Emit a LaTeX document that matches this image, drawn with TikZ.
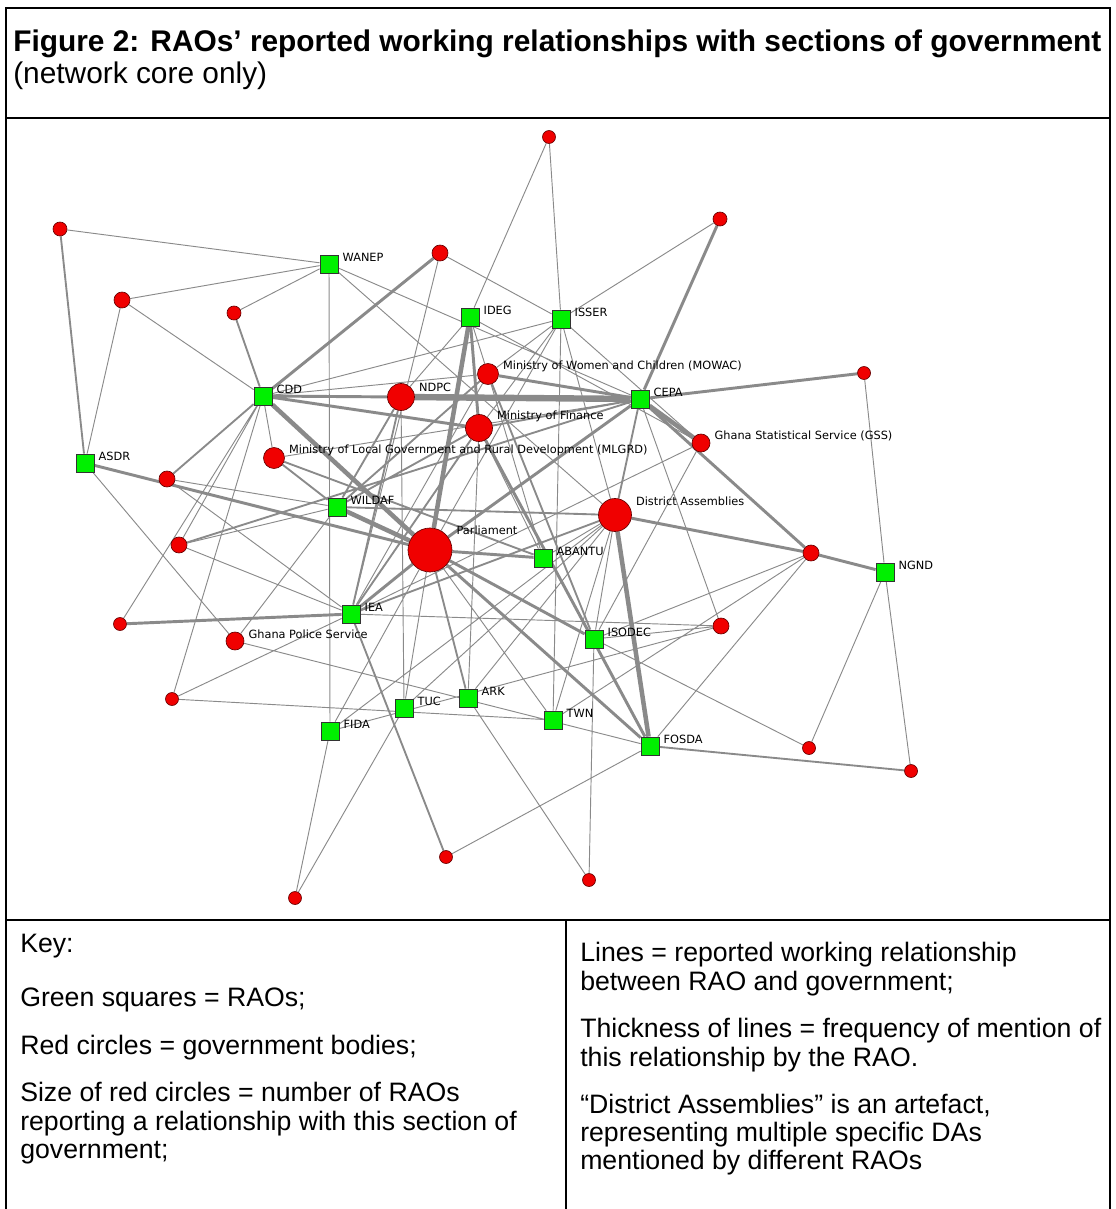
\documentclass[tikz,border=0pt]{standalone}
\usepackage{fontspec}
\setmainfont{Liberation Sans}
\newfontfamily\labfont{DejaVu Sans}
\usetikzlibrary{backgrounds}
\definecolor{raogreen}{RGB}{0,240,0}
\definecolor{govred}{RGB}{240,0,0}
\definecolor{linkgray}{RGB}{138,138,138}
\tikzset{
  frame/.style={line width=1.5pt},
  rao/.style={draw=black!80,fill=raogreen,minimum size=13.5pt,inner sep=0pt,line width=0.6pt},
  gov/.style={circle,draw=red!40!black,fill=govred,minimum size=#1,inner sep=0pt,line width=0.5pt},
  lab/.style={font=\labfont\fontsize{8.5}{10}\selectfont,inner sep=1pt},
  keytext/.style={font=\fontsize{20}{24}\selectfont,inner sep=0pt,anchor=base west},
  thinlink/.style={draw=linkgray,line width=0.7pt},
  medlink/.style={draw=linkgray,line width=1.4pt},
  thicklink/.style={draw=linkgray,line width=2.2pt},
  heavylink/.style={draw=linkgray,line width=3.4pt},
  heaviestlink/.style={draw=linkgray,line width=4.8pt}
}
\begin{document}
\begin{tikzpicture}[x=0.75pt,y=-0.75pt,label distance=2pt]
\useasboundingbox (0,0) rectangle (1116,1209);

% table frame
\draw[frame] (6,1209) -- (6,8) -- (1110,8) -- (1110,1209);
\draw[frame] (6,118) -- (1110,118);
\draw[frame] (6,920) -- (1110,920);
\draw[frame] (566,920) -- (566,1209);

% caption
\node[keytext,font=\bfseries\fontsize{22.4}{26}\selectfont] (title) at (13,52)
  {Figure 2: RAOs’ reported working relationships with sections of government};
\node[keytext,font=\fontsize{22.4}{26}\selectfont] (subtitle) at (13,84) {(network core only)};

% RAOs
\node[rao,label={[lab,yshift=5.25]right:WANEP}] (wanep) at (329,264) {};
\node[rao,label={[lab,yshift=5.25]right:IDEG}] (ideg) at (470,317) {};
\node[rao,label={[lab,yshift=5.25]right:ISSER}] (isser) at (561,319) {};
\node[rao,label={[lab,yshift=5.25]right:CDD}] (cdd) at (263,396) {};
\node[rao,label={[lab,yshift=5.25]right:CEPA}] (cepa) at (640,399) {};
\node[rao,label={[lab,yshift=5.25]right:ASDR}] (asdr) at (85,463) {};
\node[rao,label={[lab,yshift=5.25]right:WILDAF}] (wildaf) at (337,507) {};
\node[rao,label={[lab,yshift=5.25]right:ABANTU}] (abantu) at (543,558) {};
\node[rao,label={[lab,yshift=5.25]right:NGND}] (ngnd) at (885,572) {};
\node[rao,label={[lab,yshift=5.25]right:IEA}] (iea) at (351,614) {};
\node[rao,label={[lab,yshift=5.25]right:ISODEC}] (isodec) at (594,639) {};
\node[rao,label={[lab,yshift=5.25]right:ARK}] (ark) at (468,698) {};
\node[rao,label={[lab,yshift=5.25]right:TUC}] (tuc) at (404,708) {};
\node[rao,label={[lab,yshift=5.25]right:TWN}] (twn) at (553,720) {};
\node[rao,label={[lab,yshift=5.25]right:FIDA}] (fida) at (330,731) {};
\node[rao,label={[lab,yshift=5.25]right:FOSDA}] (fosda) at (650,746) {};

% government bodies
\node[gov=9.75] (g1) at (549,137) {};
\node[gov=10.5] (g2) at (720,219) {};
\node[gov=10.5] (g3) at (60,229) {};
\node[gov=12] (g4) at (440,253) {};
\node[gov=12] (g5) at (122,300) {};
\node[gov=10.5] (g6) at (234,313) {};
\node[gov=15.75,label={[lab,yshift=6]right:Ministry of Women and Children (MOWAC)}] (mowac) at (488,374) {};
\node[gov=20.25,label={[lab,yshift=7.5]right:NDPC}] (ndpc) at (401,397) {};
\node[gov=9.75] (g7) at (864,373) {};
\node[gov=20.25,label={[lab,yshift=9]right:Ministry of Finance}] (mof) at (479,428) {};
\node[gov=13.5,label={[lab,yshift=5.25]right:Ghana Statistical Service (GSS)}] (gss) at (701,443) {};
\node[gov=15.75,label={[lab,yshift=6]right:Ministry of Local Government and Rural Development (MLGRD)}] (mlgrd) at (274,458) {};
\node[gov=12] (g8) at (167,479) {};
\node[gov=24.75,label={[lab,yshift=10.5]right:District Assemblies}] (da) at (615,515) {};
\node[gov=33,label={[lab,yshift=15]right:Parliament}] (parl) at (430,550) {};
\node[gov=12] (g9) at (811,553) {};
\node[gov=12] (g10) at (179,545) {};
\node[gov=9.75] (g11) at (120,624) {};
\node[gov=13.5,label={[lab,yshift=5.25]right:Ghana Police Service}] (gps) at (235,641) {};
\node[gov=12] (g12) at (721,626) {};
\node[gov=9.75] (g13) at (172,699) {};
\node[gov=9.75] (g14) at (809,748) {};
\node[gov=9.75] (g15) at (911,771) {};
\node[gov=9.75] (g16) at (446,857) {};
\node[gov=9.75] (g17) at (589,880) {};
\node[gov=9.75] (g18) at (295,898) {};

% working relationships
\begin{scope}[on background layer]
\path[thinlink] (g1) -- (ideg) (g1) -- (isser) (g2) -- (isser)
  (g3) -- (wanep) (g5) -- (wanep) (g5) -- (asdr) (g5) -- (cdd) (g6) -- (wanep)
  (g4) -- (isser) (g4) -- (iea) (wanep) -- (fida) (wanep) -- (cepa) (wanep) -- (da)
  (cdd) -- (isser) (cdd) -- (g10) (cdd) -- (g11) (cdd) -- (g13) (cdd) -- (mlgrd) (cdd) -- (mowac)
  (parl) -- (tuc) (parl) -- (fida) (parl) -- (isser) (parl) -- (twn)
  (mof) -- (abantu) (mof) -- (ark) (mof) -- (isser) (ndpc) -- (ideg) (ndpc) -- (tuc)
  (mowac) -- (abantu) (mowac) -- (isser) (mowac) -- (ideg) (mowac) -- (iea)
  (gss) -- (isodec) (gss) -- (iea) (gss) -- (isser) (gss) -- (ideg)
  (da) -- (isser) (da) -- (abantu) (da) -- (ark) (da) -- (tuc) (da) -- (isodec) (da) -- (twn) (da) -- (fida)
  (g9) -- (isodec) (g9) -- (twn) (g9) -- (fosda)
  (g12) -- (isodec) (g12) -- (iea) (g12) -- (cepa) (g12) -- (fida)
  (gps) -- (asdr) (gps) -- (fosda) (gps) -- (wildaf)
  (g8) -- (wildaf) (g8) -- (iea) (g10) -- (wildaf) (g10) -- (iea)
  (g13) -- (iea) (g13) -- (twn) (g14) -- (ngnd) (g14) -- (isodec) (g15) -- (ngnd)
  (g16) -- (fosda) (g17) -- (isodec) (g17) -- (ark) (g18) -- (fida) (g18) -- (tuc)
  (g7) -- (ngnd) (cepa) -- (mlgrd) (isser) -- (twn);
\path[medlink] (g3) -- (asdr) (g6) -- (cdd) (cdd) -- (g8)
  (mof) -- (wildaf) (mof) -- (iea) (mof) -- (cepa) (ndpc) -- (wildaf) (ndpc) -- (iea)
  (mowac) -- (wildaf) (mowac) -- (isodec) (mlgrd) -- (wildaf) (mlgrd) -- (abantu)
  (cepa) -- (da) (cepa) -- (g10) (wildaf) -- (da) (iea) -- (da) (g16) -- (iea)
  (g15) -- (fosda) (parl) -- (ark);
\path[thicklink] (g2) -- (cepa) (g4) -- (cdd) (cdd) -- (ndpc) (cdd) -- (mof)
  (cepa) -- (g9) (cepa) -- (g7) (cepa) -- (mowac) (cepa) -- (parl)
  (da) -- (g9) (g9) -- (ngnd) (asdr) -- (parl) (g11) -- (iea)
  (parl) -- (iea) (parl) -- (abantu) (parl) -- (isodec) (parl) -- (fosda)
  (mof) -- (fosda) (ideg) -- (mof);
\path[heavylink] (cdd) -- (parl) (ideg) -- (parl) (cepa) -- (gss) (da) -- (fosda) (wildaf) -- (parl);
\path[heaviestlink] (ndpc) -- (cepa);
\end{scope}

% key
\node[keytext] (keyhead) at (20,952) {Key:};
\node[keytext] (keysquare) at (20,1006) {Green squares = RAOs;};
\node[keytext] (keycircle) at (20,1054) {Red circles = government bodies;};
\node[keytext] (keysizea) at (20,1101) {Size of red circles = number of RAOs};
\node[keytext] (keysizeb) at (20,1130) {reporting a relationship with this section of};
\node[keytext] (keysizec) at (20,1158) {government;};
\node[keytext] (keylinea) at (580,961) {Lines = reported working relationship};
\node[keytext] (keylineb) at (580,990) {between RAO and government;};
\node[keytext] (keythicka) at (580,1037) {Thickness of lines = frequency of mention of};
\node[keytext] (keythickb) at (580,1066) {this relationship by the RAO.};
\node[keytext] (keydaa) at (580,1113) {“District Assemblies” is an artefact,};
\node[keytext] (keydab) at (580,1141) {representing multiple specific DAs};
\node[keytext] (keydac) at (580,1169) {mentioned by different RAOs};
\end{tikzpicture}
\end{document}
